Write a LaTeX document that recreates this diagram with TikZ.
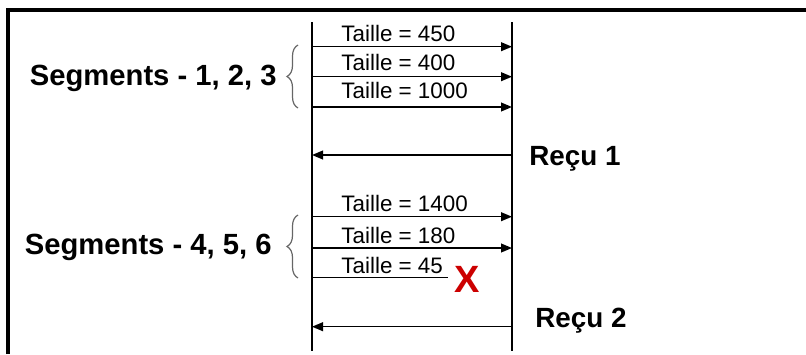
\documentclass[tikz,border=0pt]{standalone}
\usepackage{fontspec}
\setmainfont{Liberation Sans}
\usetikzlibrary{arrows.meta,decorations.pathreplacing}

\tikzset{
  msg/.style={line width=0.75pt,-{Triangle[length=5.5pt,width=4.4pt]}},
  life/.style={line width=0.75pt},
  size/.style={anchor=base west,inner sep=0pt,font=\fontsize{11.2}{13}\selectfont},
  group/.style={anchor=base east,inner sep=0pt,font=\fontsize{14.6}{16}\selectfont\bfseries},
  ack/.style={anchor=base west,inner sep=0pt,font=\fontsize{13.9}{16}\selectfont\bfseries},
  curly/.style={draw=black!60,line width=0.6pt,decorate,decoration={brace,amplitude=5.5pt}}
}

\begin{document}
\begin{tikzpicture}[x=0.5pt,y=-0.5pt]
\useasboundingbox (0,0) rectangle (806,354);
% frame
\draw[line width=2pt] (8,354) -- (8,9.5) -- (806,9.5);

% lifelines
\coordinate (snd top) at (312,22);
\coordinate (snd bot) at (312,351);
\coordinate (rcv top) at (512,22);
\coordinate (rcv bot) at (512,351);
\draw[life] (snd top) -- (snd bot);
\draw[life] (rcv top) -- (rcv bot);

% first group
\coordinate (s1) at (312,46.7);  \coordinate (r1) at (512,46.7);
\coordinate (s2) at (312,76.7);  \coordinate (r2) at (512,76.7);
\coordinate (s3) at (312,107);   \coordinate (r3) at (512,107);
\draw[msg] (s1) -- (r1);
\draw[msg] (s2) -- (r2);
\draw[msg] (s3) -- (r3);
\node[size] (t1) at (341,41.5) {Taille = 450};
\node[size] (t2) at (341,70.5) {Taille = 400};
\node[size] (t3) at (341,98.5) {Taille = 1000};
\draw[curly] (298,108) -- (298,45);
\node[group] (grp1) at (277,85) {Segments - 1, 2, 3};

% first ack
\coordinate (a1r) at (512,155);  \coordinate (a1s) at (312,155);
\draw[msg] (a1r) -- (a1s);
\node[ack] (ack1) at (529,165) {Reçu 1};

% second group
\coordinate (s4) at (312,216.7); \coordinate (r4) at (512,216.7);
\coordinate (s5) at (312,248);   \coordinate (r5) at (512,248);
\coordinate (s6) at (312,277.7); \coordinate (lost) at (448,277.7);
\draw[msg] (s4) -- (r4);
\draw[msg] (s5) -- (r5);
\draw[life] (s6) -- (lost);
\node[size] (t4) at (341,211.5) {Taille = 1400};
\node[size] (t5) at (341,243.5) {Taille = 180};
\node[size] (t6) at (341,273.5) {Taille = 45};
\node[font=\fontsize{19}{21}\selectfont\bfseries,text=red!80!black,inner sep=0pt] (drop) at (467,279) {X};
\draw[curly] (298,278) -- (298,215);
\node[group] (grp2) at (272,254) {Segments - 4, 5, 6};

% second ack
\coordinate (a2r) at (512,326.7); \coordinate (a2s) at (312,326.7);
\draw[msg] (a2r) -- (a2s);
\node[ack] (ack2) at (535,327) {Reçu 2};
\end{tikzpicture}
\end{document}
